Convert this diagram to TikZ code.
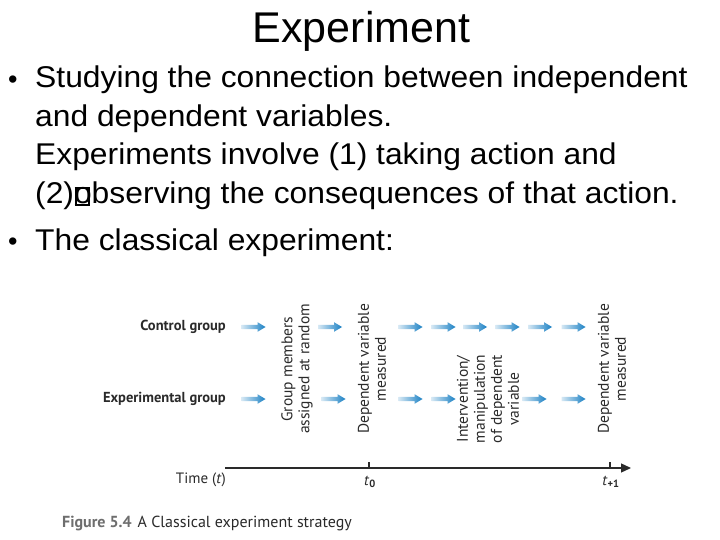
\documentclass[tikz,border=0pt]{standalone}
\usepackage{fontspec}
\setmainfont{Liberation Sans}
\newfontfamily\bodyfont[FakeStretch=1.06]{Liberation Sans}
\newfontfamily\figfont{PT Sans}
\usetikzlibrary{arrows.meta}
\definecolor{arrowblue}{HTML}{1A80C4}
\definecolor{figtext}{HTML}{2A2A2A}
\definecolor{capgray}{HTML}{6E6E6E}
\tikzset{
  titletext/.style={font=\fontsize{43}{50}\selectfont, anchor=base, inner sep=0pt},
  bodytext/.style={font=\bodyfont\fontsize{30}{36}\selectfont, anchor=base west, inner sep=0pt},
  bullettext/.style={font=\fontsize{27}{30}\selectfont, anchor=base west, inner sep=0pt},
  grouplabel/.style={font=\figfont\bfseries\fontsize{14.5}{17}\selectfont, text=figtext, anchor=east, inner sep=0pt},
  vlabel/.style={font=\figfont\fontsize{15.5}{17}\selectfont, text=figtext, rotate=90, align=center, inner sep=0pt},
  axislabel/.style={font=\figfont\fontsize{15}{17}\selectfont, text=figtext, inner sep=0pt},
  axisline/.style={line width=1.3pt, draw=figtext},
  blarrow/.pic={\shade[left color=arrowblue!18, right color=arrowblue]
     (-12,-2.2) -- (4,-2.2) -- (4,-4.8) -- (12,0) -- (4,4.8) -- (4,2.2) -- (-12,2.2) -- cycle;}
}
\newcommand{\missingglyph}{\rlap{\kern0.5pt\raisebox{0pt}{\setlength{\fboxsep}{0pt}\setlength{\fboxrule}{2.4pt}\fbox{\rule{0pt}{15pt}\hspace{11pt}}}}}
\begin{document}
\begin{tikzpicture}[x=1pt,y=-1pt]
\useasboundingbox[fill=white] (0,0) rectangle (720,540);
% title
\node[titletext] (title) at (361.5,43) {Experiment};
% bullets
\node[bullettext] (b1) at (8,88.5) {•};
\node[bodytext] (l1) at (35,88) {Studying the connection between independent};
\node[bodytext] (l2) at (35,127) {and dependent variables.};
\node[bodytext] (l3) at (35,165) {Experiments involve (1) taking action and};
\node[bodytext] (l4) at (35,204) {(2)\missingglyph observing the consequences of that action.};
\node[bullettext] (b2) at (8,250.5) {•};
\node[bodytext] (l5) at (35,250) {The classical experiment:};
% group labels
\node[grouplabel] (cg) at (226,327) {Control group};
\node[grouplabel] (eg) at (226,399) {Experimental group};
% vertical labels
\node[vlabel] (v1) at (297,369) {Group members\\assigned at random};
\node[vlabel] (v2) at (372,369) {Dependent variable\\measured};
\node[vlabel] (v3) at (488,399) {Intervention/\\manipulation\\of dependent\\variable};
\node[vlabel] (v4) at (612,369) {Dependent variable\\measured};
% arrows control row
\foreach \x in {253.5,330,410.5,443.5,475,507.5,540,573.5}
  \pic at (\x,327) {blarrow};
% arrows experimental row
\foreach \x in {253.5,333.5,410.5,443.5,534.5,573.5}
  \pic at (\x,399) {blarrow};
% time axis
\coordinate (ax0) at (225,468);
\coordinate (ax1) at (631,468);
\coordinate (tk0) at (369,468);
\coordinate (tk1) at (610,468);
\draw[axisline, -{Triangle[length=10pt,width=9pt]}] (ax0) -- (ax1);
\draw[axisline] (tk0) -- ++(0,-6);
\draw[axisline] (tk1) -- ++(0,-6);
\node[axislabel, anchor=east] (time) at (226,480) {Time (\textit{t})};
\node[axislabel] (t0) at (370,482) {\textit{t}\textsubscript{\textbf{0}}};
\node[axislabel] (t1) at (611,482) {\textit{t}\textsubscript{\textbf{+1}}};
% caption
\node[anchor=base west, inner sep=0pt, font=\figfont\fontsize{16}{18}\selectfont] (cap) at (62,527)
  {\textcolor{capgray}{\bfseries Figure 5.4}\hspace{6pt}\textcolor{figtext}{A Classical experiment strategy}};
\end{tikzpicture}
\end{document}
